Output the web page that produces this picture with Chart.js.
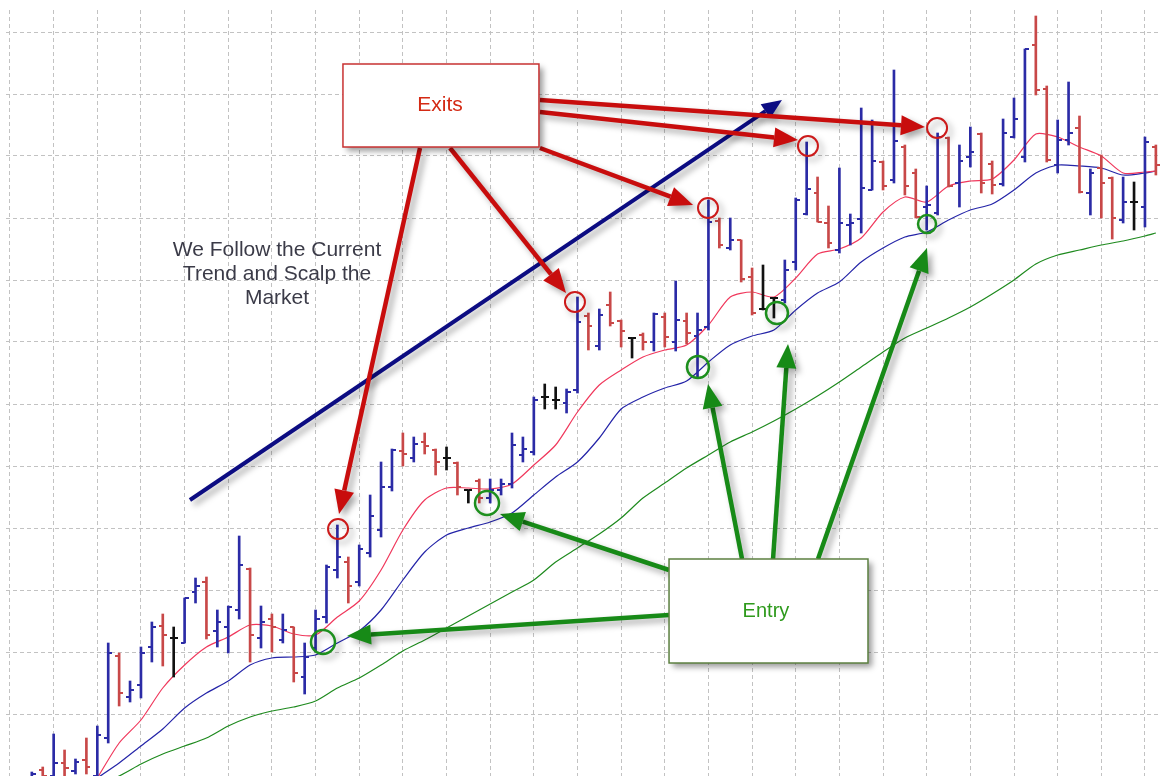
<!DOCTYPE html>
<html lang="en">
  <head>
    <meta charset="UTF-8" />
    <title>Trend scalping</title>
    <script src="https://cdn.jsdelivr.net/npm/chart.js@4.4.0/dist/chart.umd.min.js"></script>
    <style>
      html, body { margin: 0; padding: 0; background: #fff; overflow: hidden; }
      canvas { display: block; }
    </style>
  </head>
  <body>
    <canvas id="chart" width="1161" height="776"></canvas>

    <script>
      // price in points, one bar per index, first bar is index 2
      const firstBar = 2;
      const opens = [
        -1, 6, 0, 13, 5, 16, 0, 38, 120, 79,
        91, 129, 150, 138, 133, 184, 194, 145, 149, 166,
        207, 138, 157, 136, 149, 99, 128, 159, 206, 214,
        194, 223, 246, 289, 325, 318, 334, 326, 318, 313,
        286, 295, 278, 286, 292, 321, 324, 379, 376, 373,
        386, 460, 430, 471, 455, 438, 441, 434, 459, 434,
        455, 440, 449, 555, 528, 536, 499, 467, 478, 476,
        514, 562, 583, 553, 526, 551, 557, 586, 614, 596,
        629, 603, 569, 563, 638, 593, 619, 642, 612, 592,
        639, 619, 731, 687, 611, 636, 648, 583, 608, 598,
        556, 574, 569, 629
      ];
      const highs = [
        4, 9, 42, 26, 17, 38, 50, 133, 123, 95,
        129, 154, 162, 149, 178, 198, 199, 166, 170, 240,
        208, 170, 162, 162, 149, 133, 166, 211, 251, 219,
        231, 281, 314, 327, 343, 339, 343, 327, 329, 314,
        286, 297, 297, 297, 343, 339, 379, 392, 389, 387,
        479, 463, 467, 484, 456, 438, 443, 463, 463, 495,
        463, 463, 576, 558, 558, 536, 508, 511, 478, 516,
        578, 634, 599, 570, 608, 562, 668, 656, 615, 706,
        631, 607, 590, 643, 639, 631, 649, 643, 615, 657,
        678, 727, 760, 690, 656, 694, 660, 607, 621, 599,
        599, 594, 639, 631
      ];
      const lows = [
        -3, -3, -3, -3, 2, 2, -2, 33, 70, 74,
        78, 114, 110, 99, 133, 173, 137, 129, 123, 157,
        114, 128, 124, 133, 94, 82, 124, 153, 198, 173,
        190, 219, 239, 285, 310, 314, 322, 301, 306, 281,
        273, 273, 273, 281, 288, 314, 321, 367, 367, 363,
        383, 426, 426, 450, 429, 418, 426, 425, 429, 425,
        432, 399, 446, 528, 526, 494, 461, 466, 458, 473,
        506, 561, 554, 528, 523, 531, 543, 586, 586, 593,
        581, 558, 546, 561, 589, 569, 609, 583, 582, 590,
        638, 614, 681, 614, 603, 631, 583, 561, 558, 537,
        553, 546, 549, 601
      ];
      const closes = [
        2, 0, 13, 8, 14, 9, 41, 123, 83, 86,
        123, 149, 141, 138, 178, 190, 141, 154, 169, 211,
        141, 154, 149, 146, 103, 119, 157, 209, 219, 190,
        227, 260, 289, 326, 322, 332, 330, 314, 318, 289,
        286, 278, 286, 292, 331, 327, 376, 379, 376, 384,
        454, 450, 461, 453, 445, 438, 434, 462, 439, 456,
        443, 446, 554, 531, 536, 497, 463, 467, 478, 506,
        576, 587, 554, 533, 553, 553, 588, 615, 590, 635,
        590, 559, 571, 639, 590, 615, 624, 593, 591, 643,
        657, 727, 686, 616, 636, 643, 584, 603, 593, 558,
        574, 574, 634, 611
      ];

      // moving averages read at these bar indexes
      const maIndex = [
        8, 10, 12, 14, 16, 18, 20, 22, 24, 26, 28, 30, 32, 34, 36, 38, 40,
        42, 44, 46, 48, 50, 52, 54, 56, 58, 60, 62, 64, 66, 68, 70, 72, 74,
        76, 78, 80, 82, 84, 86, 88, 90, 92, 94, 96, 98, 100, 102, 104, 105
      ];
      const maFast = [
        -2, 33, 56, 88, 111, 129, 139, 151, 150, 142, 141, 159, 175, 206, 246, 276, 288,
        288, 287, 292, 311, 331, 364, 391, 406, 419, 426, 431, 451, 479, 484, 479, 498, 522,
        527, 538, 564, 579, 574, 590, 595, 597, 616, 642, 639, 629, 620, 603, 604, 605
      ];
      const maMid = [
        -2, 13, 30, 47, 68, 83, 95, 111, 118, 119, 121, 133, 145, 166, 196, 224, 241,
        248, 254, 263, 281, 299, 314, 338, 367, 379, 388, 395, 414, 431, 440, 446, 466, 483,
        494, 514, 528, 539, 544, 556, 566, 572, 586, 603, 611, 610, 608, 601, 603, 605
      ];
      const maSlow = [
        -8, 0, 12, 22, 30, 38, 50, 59, 65, 69, 75, 88, 98, 111, 125, 136, 148,
        160, 172, 184, 196, 214, 228, 242, 258, 278, 293, 308, 321, 334, 344, 355, 367, 380,
        394, 409, 424, 438, 448, 458, 469, 482, 496, 512, 521, 526, 531, 535, 540, 543
      ];

      // annotations, in bar index / price
      const noteLines = ["We Follow the Current", "Trend and Scalp the", "Market"];
      const notePos = [24.47, 520];
      const exitsBox = [30.51, 48.47, 629, 712];
      const entryBox = [60.39, 78.62, 113, 217];
      const exitsLabel = [39.4, 671];
      const entryLabel = [69.27, 165];
      const trendArrow = [16.49, 276, 70.74, 676];
      const exitArrows = [
        [37.57, 628, 30.15, 262],
        [40.32, 628, 50.95, 483],
        [48.56, 628, 62.59, 571],
        [48.56, 664, 72.21, 636],
        [48.56, 676, 83.84, 649]
      ];
      const entryArrows = [
        [60.39, 161, 30.88, 140],
        [60.39, 206, 44.9, 262],
        [67.08, 217, 63.96, 392],
        [69.92, 217, 71.29, 432],
        [74.04, 217, 84.03, 528]
      ];
      const exitCircles = [[30.06, 247], [51.77, 474], [63.96, 568], [73.12, 630], [84.95, 648]];
      const entryCircles = [[28.68, 134, 12], [43.71, 273, 12], [63.04, 409, 11], [70.28, 463, 11], [84.03, 552, 9]];

      const xGrid = [0, 4, 8, 12, 16, 20, 24, 28, 32, 36, 40, 44, 48, 52, 56, 60, 64, 68, 72, 76, 80, 84, 88, 92, 96, 100, 104];
      const yGrid = [0, 62, 124, 186, 248, 310, 372, 434, 496, 558, 620, 682, 744];

      const UP = "#2b2ba6", DOWN = "#c84848", FLAT = "#111111";
      const barColor = opens.map((o, k) => (closes[k] > o ? UP : closes[k] < o ? DOWN : FLAT));

      // small canvases used as point styles for the open / close ticks
      function tick(color, left) {
        const c = document.createElement("canvas");
        c.width = 8;
        c.height = 2;
        const g = c.getContext("2d");
        g.fillStyle = color;
        g.fillRect(left ? 0 : 4, 0, 4, 2);
        return c;
      }
      const openTick = {}, closeTick = {};
      [UP, DOWN, FLAT].forEach((c) => {
        openTick[c] = tick(c, true);
        closeTick[c] = tick(c, false);
      });

      const hlData = highs.map((h, k) => ({ x: firstBar + k, y: [lows[k], h] }));
      const openData = opens.map((o, k) => ({ x: firstBar + k, y: o }));
      const closeData = closes.map((c, k) => ({ x: firstBar + k, y: c }));
      const toPts = (arr) => arr.map((v, k) => ({ x: maIndex[k], y: v }));

      function arrow(ctx, x1, y1, x2, y2, color, w, hl, hw) {
        const a = Math.atan2(y2 - y1, x2 - x1);
        const bx = x2 - hl * Math.cos(a), by = y2 - hl * Math.sin(a);
        ctx.strokeStyle = color;
        ctx.lineWidth = w;
        ctx.beginPath();
        ctx.moveTo(x1, y1);
        ctx.lineTo(bx, by);
        ctx.stroke();
        ctx.fillStyle = color;
        ctx.beginPath();
        ctx.moveTo(x2, y2);
        ctx.lineTo(bx + (hw / 2) * Math.sin(a), by - (hw / 2) * Math.cos(a));
        ctx.lineTo(bx - (hw / 2) * Math.sin(a), by + (hw / 2) * Math.cos(a));
        ctx.closePath();
        ctx.fill();
      }

      const annotations = {
        id: "annotations",
        afterDatasetsDraw(chart) {
          const ctx = chart.ctx;
          const X = (v) => chart.scales.x.getPixelForValue(v);
          const Y = (v) => chart.scales.y.getPixelForValue(v);
          ctx.save();
          ctx.shadowColor = "rgba(0,0,0,0.35)";
          ctx.shadowBlur = 6;
          ctx.shadowOffsetX = 4;
          ctx.shadowOffsetY = 4;

          arrow(ctx, X(trendArrow[0]), Y(trendArrow[1]), X(trendArrow[2]), Y(trendArrow[3]), "#0c0c82", 4, 20, 17);

          exitArrows.forEach((a) => arrow(ctx, X(a[0]), Y(a[1]), X(a[2]), Y(a[3]), "#c80d0d", 4.5, 24, 20));
          entryArrows.forEach((a) => arrow(ctx, X(a[0]), Y(a[1]), X(a[2]), Y(a[3]), "#178a17", 4.5, 24, 20));

          ctx.lineWidth = 2;
          ctx.strokeStyle = "#cc1a1a";
          exitCircles.forEach((c) => {
            ctx.beginPath();
            ctx.arc(X(c[0]), Y(c[1]), 10, 0, Math.PI * 2);
            ctx.stroke();
          });
          ctx.lineWidth = 2.5;
          ctx.strokeStyle = "#1d8f1d";
          entryCircles.forEach((c) => {
            ctx.beginPath();
            ctx.arc(X(c[0]), Y(c[1]), c[2], 0, Math.PI * 2);
            ctx.stroke();
          });

          // boxes
          [[exitsBox, "#c83232"], [entryBox, "#5c8040"]].forEach(([b, col]) => {
            const x1 = X(b[0]), x2 = X(b[1]), y1 = Y(b[3]), y2 = Y(b[2]);
            ctx.shadowColor = "rgba(0,0,0,0.4)";
            ctx.fillStyle = "#ffffff";
            ctx.fillRect(x1, y1, x2 - x1, y2 - y1);
            ctx.shadowColor = "transparent";
            ctx.strokeStyle = col;
            ctx.lineWidth = 1.5;
            ctx.strokeRect(x1, y1, x2 - x1, y2 - y1);
          });

          ctx.shadowColor = "transparent";
          ctx.textAlign = "center";
          ctx.textBaseline = "middle";
          ctx.font = '21px "Liberation Sans", Arial, sans-serif';
          ctx.fillStyle = "#d42a14";
          ctx.fillText("Exits", X(exitsLabel[0]), Y(exitsLabel[1]));
          ctx.font = '20px "Liberation Sans", Arial, sans-serif';
          ctx.fillStyle = "#2e9a1c";
          ctx.fillText("Entry", X(entryLabel[0]), Y(entryLabel[1]));

          ctx.textBaseline = "alphabetic";
          ctx.font = '21px "Liberation Sans", Arial, sans-serif';
          ctx.fillStyle = "#3b3b48";
          noteLines.forEach((t, k) => {
            ctx.fillText(t, X(notePos[0]), Y(notePos[1]) + k * 24);
          });
          ctx.restore();
        }
      };

      const gridOpts = { color: "#c2c2c2", lineWidth: 1, drawTicks: false, offset: false };

      const ctx = document.getElementById("chart").getContext("2d");
      const myChart = new Chart(ctx, {
        type: "line",
        data: {
          datasets: [
            {
              type: "line",
              data: openData,
              showLine: false,
              pointRadius: 4,
              pointStyle: (c) => openTick[barColor[c.dataIndex]],
              order: 1
            },
            {
              type: "line",
              data: closeData,
              showLine: false,
              pointRadius: 4,
              pointStyle: (c) => closeTick[barColor[c.dataIndex]],
              order: 1
            },
            {
              type: "bar",
              data: hlData,
              backgroundColor: barColor,
              borderWidth: 0,
              barThickness: 2,
              order: 2
            },
            { type: "line", data: toPts(maFast), borderColor: "#f0385c", borderWidth: 1.2, pointRadius: 0, tension: 0.25, order: 3 },
            { type: "line", data: toPts(maMid), borderColor: "#2424a8", borderWidth: 1.2, pointRadius: 0, tension: 0.25, order: 3 },
            { type: "line", data: toPts(maSlow), borderColor: "#1e8a1e", borderWidth: 1.2, pointRadius: 0, tension: 0.25, order: 3 }
          ]
        },
        options: {
          responsive: false,
          animation: false,
          events: [],
          layout: { autoPadding: false, padding: { left: 6, top: 10, right: 0, bottom: 0 } },
          plugins: { legend: { display: false }, tooltip: { enabled: false } },
          scales: {
            x: {
              type: "linear",
              min: -0.3665,
              max: 105.47,
              offset: false,
              grid: gridOpts,
              border: { display: false, dash: [4, 3] },
              ticks: { display: false },
              afterBuildTicks: (s) => { s.ticks = xGrid.map((v) => ({ value: v })); }
            },
            y: {
              type: "linear",
              min: 0,
              max: 766,
              grid: gridOpts,
              border: { display: false, dash: [4, 3] },
              ticks: { display: false },
              afterBuildTicks: (s) => { s.ticks = yGrid.map((v) => ({ value: v })); }
            }
          }
        },
        plugins: [annotations]
      });
    </script>
  </body>
</html>
